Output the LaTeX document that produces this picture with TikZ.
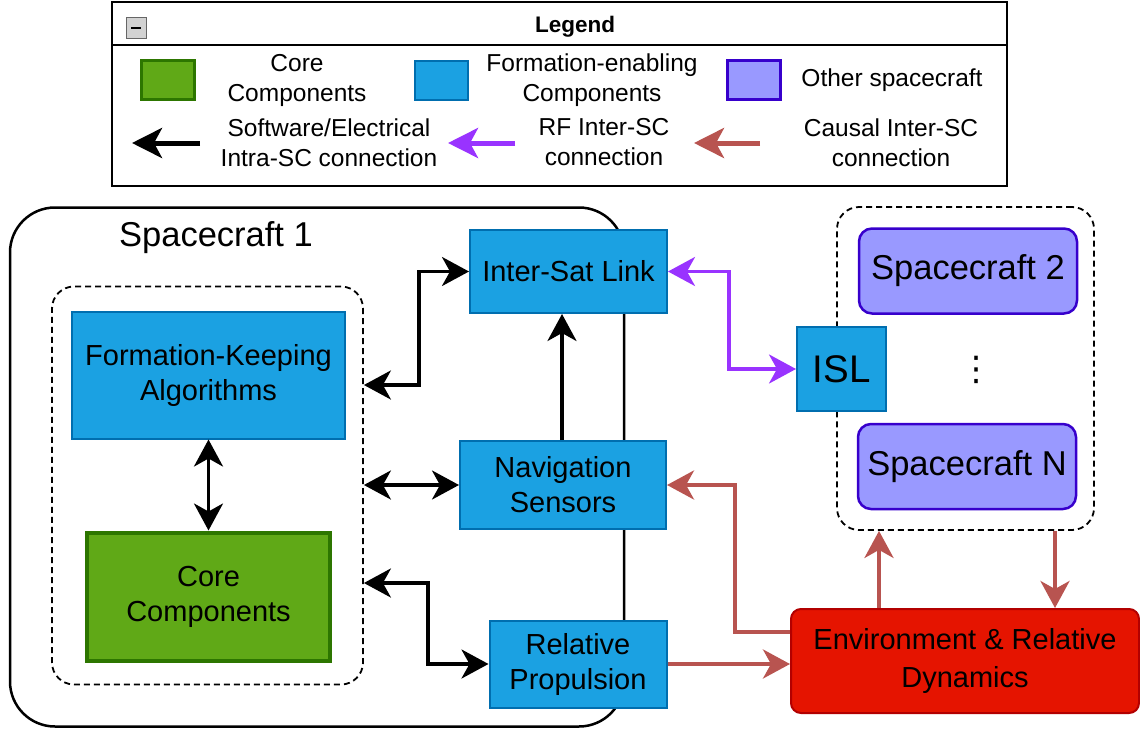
\documentclass[tikz,border=0pt]{standalone}
\usepackage{fontspec}
\setmainfont{Liberation Sans}
\newfontfamily\symfont{DejaVu Sans}
\usetikzlibrary{arrows.meta,calc}
\definecolor{blueF}{HTML}{1BA1E2}
\definecolor{blueD}{HTML}{006EAF}
\definecolor{greenF}{HTML}{60A917}
\definecolor{greenD}{HTML}{2D7600}
\definecolor{purpF}{HTML}{9999FF}
\definecolor{purpD}{HTML}{3700CC}
\definecolor{redF}{HTML}{E51400}
\definecolor{redD}{HTML}{B20000}
\definecolor{arrRed}{HTML}{B85450}
\definecolor{arrPurp}{HTML}{9933FF}
\begin{document}
\begin{tikzpicture}[x=1pt,y=-1pt,
  boxtext/.style={font=\fontsize{29}{35}\selectfont,align=center,inner sep=0pt,text=black},
  bbox/.style={boxtext,draw=blueD,fill=blueF,line width=2pt},
  gbox/.style={boxtext,draw=greenD,fill=greenF,line width=4pt},
  pbox/.style={boxtext,draw=purpD,fill=purpF,line width=2.5pt,rounded corners=13pt,font=\fontsize{34.5}{40}\selectfont},
  rbox/.style={boxtext,draw=redD,fill=redF,line width=2pt,rounded corners=10pt,font=\fontsize{29}{38}\selectfont},
  group/.style={draw=black,dashed,dash pattern=on 6pt off 4pt,line width=1.8pt,rounded corners=22pt,inner sep=0pt},
  blk/.style={draw=black,line width=3.5pt,{Stealth[length=27pt,width=29pt,inset=8pt]}-{Stealth[length=27pt,width=29pt,inset=8pt]}},
  blkone/.style={draw=black,line width=3.5pt,-{Stealth[length=27pt,width=29pt,inset=8pt]}},
  redarr/.style={draw=arrRed,line width=4pt,-{Stealth[length=27pt,width=29pt,inset=8pt]}},
  purparr/.style={draw=arrPurp,line width=3.5pt,{Stealth[length=27pt,width=29pt,inset=8pt]}-{Stealth[length=27pt,width=29pt,inset=8pt]}},
  legtext/.style={font=\fontsize{24.5}{30}\selectfont,align=center,inner sep=0pt},
  legsq/.style={minimum width=53pt,minimum height=39pt,inner sep=0pt},
  legarr/.style={line width=5pt,-{Stealth[length=30pt,width=30pt,inset=8pt]}}
]
\useasboundingbox (0,0) rectangle (1140,728);

% ---------- Legend ----------
\node[draw=black,line width=2pt,minimum width=895pt,minimum height=184pt,inner sep=0pt] (leg) at (559.5,94) {};
\coordinate (sepy) at (0,45);
\draw[line width=2.5pt] (leg.west |- sepy) -- (leg.east |- sepy);
\node[draw=gray!80!black,fill=gray!35,line width=1pt,minimum width=20pt,minimum height=21pt,inner sep=0pt] (minus) at (136,28) {};
\draw[line width=2.5pt] ([xshift=-5pt]minus.center) -- ([xshift=5pt]minus.center);
\node[font=\bfseries\fontsize{22.5}{27}\selectfont,inner sep=0pt] (legt) at (575,27) {Legend};

\node[legsq,draw=greenD,fill=greenF,line width=3pt] (lg) at (167.5,80) {};
\node[legtext] (lgt) at (297,80.5) {Core\\Components};
\node[legsq,draw=blueD,fill=blueF,line width=2pt] (lb) at (441.5,80) {};
\node[legtext] (lbt) at (592,80.5) {Formation-enabling\\Components};
\node[legsq,draw=purpD,fill=purpF,line width=2.5pt] (lp) at (754,80) {};
\node[legtext] (lpt) at (892,80) {Other spacecraft};

\coordinate (ka0) at (200,143);
\coordinate (ka1) at (132,143);
\draw[legarr,draw=black] (ka0) -- (ka1);
\node[legtext] (kat) at (329,142.5) {Software/Electrical\\Intra-SC connection};
\coordinate (pa0) at (515,143);
\coordinate (pa1) at (448,143);
\draw[legarr,draw=arrPurp] (pa0) -- (pa1);
\node[legtext] (pat) at (604,142.5) {RF Inter-SC\\connection};
\coordinate (ra0) at (760,143);
\coordinate (ra1) at (694,143);
\draw[legarr,draw=arrRed] (ra0) -- (ra1);
\node[legtext] (rat) at (891,142.5) {Causal Inter-SC\\connection};

% ---------- Containers ----------
\node[draw=black,line width=2.5pt,rounded corners=45pt,minimum width=614pt,minimum height=519pt,inner sep=0pt] (sc1) at (317,467) {};
\node[font=\fontsize{34.5}{40}\selectfont,inner sep=0pt] (sc1lbl) at (216,238) {Spacecraft 1};
\node[group,minimum width=311pt,minimum height=398pt] (grp) at (207.5,485.5) {};
\node[group,minimum width=257pt,minimum height=323pt] (grpR) at (965.5,368.5) {};

% ---------- Nodes ----------
\node[bbox,minimum width=273pt,minimum height=127pt] (fka) at (208.5,375) {Formation-Keeping\\Algorithms};
\node[gbox,minimum width=243pt,minimum height=128pt] (core) at (208.5,596.5) {Core\\Components};
\node[bbox,minimum width=197pt,minimum height=83pt] (isl1) at (568.5,271.5) {Inter-Sat Link};
\node[bbox,minimum width=206pt,minimum height=88pt] (nav) at (563,485) {Navigation\\Sensors};
\node[bbox,minimum width=177pt,minimum height=87pt] (prop) at (578,664) {Relative\\Propulsion};
\node[bbox,minimum width=89pt,minimum height=84pt,font=\fontsize{38.5}{44}\selectfont] (isl) at (841.5,369) {ISL};
\node[pbox,minimum width=218pt,minimum height=85pt] (sc2) at (968,271) {Spacecraft 2};
\node[pbox,minimum width=218pt,minimum height=85pt] (scn) at (967,466.5) {Spacecraft N};
\node[font=\symfont\fontsize{34}{40}\selectfont,inner sep=0pt] (dots) at (976,370) {⋮};
\node[rbox,minimum width=348pt,minimum height=104pt] (env) at (965,661) {Environment \& Relative\\Dynamics};

% ---------- Connectors ----------
\coordinate (y385) at (0,385);
\coordinate (y583) at (0,583);
\coordinate (y632) at (0,632);
\coordinate (x879) at (879,0);
\coordinate (x1055) at (1055,0);

\draw[blk] (grp.east |- y385) -- ++(55,0) |- (isl1.west);
\draw[blk] (fka.south) -- (core.north);
\draw[blk] (grp.east |- nav.west) -- (nav.west);
\draw[blk] (grp.east |- y583) -- ++(64,0) |- (prop.west);
\draw[blkone] (nav.north -| 562,0) -- (isl1.south -| 562,0);

\draw[purparr] (isl1.east) -- ++(61,0) |- (isl.west);

\draw[redarr] (env.west |- y632) -- ++(-55,0) |- (nav.east);
\draw[redarr] (prop.east) -- (env.west |- prop.east);
\draw[redarr] (env.north -| x879) -- (grpR.south -| x879);
\draw[redarr] (grpR.south -| x1055) -- (env.north -| x1055);
\end{tikzpicture}
\end{document}
